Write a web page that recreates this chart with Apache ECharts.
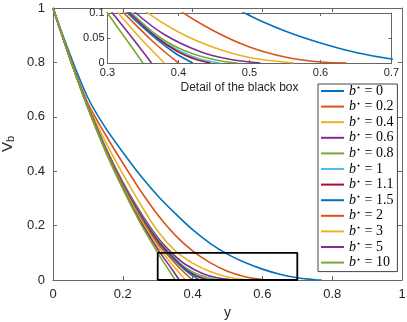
<!DOCTYPE html>
<html>
<head>
<meta charset="utf-8">
<script src="https://cdn.jsdelivr.net/npm/echarts@6/dist/echarts.min.js"></script>
<style>
  html, body { margin: 0; padding: 0; background: #fff; }
  #chart-container { width: 407px; height: 322px; }
</style>
</head>
<body>
<div id="chart-container"></div>
<script>
// b* values shown in the legend
const bValues = ["0", "0.2", "0.4", "0.6", "0.8", "1", "1.1", "1.5", "2", "3", "5", "10"];

// curves, [y, V_b]
const curve_b0 = [[0, 1], [0.05, 0.825], [0.1, 0.67], [0.15, 0.56], [0.2, 0.47], [0.25, 0.385], [0.3, 0.31], [0.35, 0.245], [0.4, 0.185], [0.45, 0.135], [0.5, 0.095], [0.55, 0.064], [0.6, 0.04], [0.65, 0.021], [0.7, 0.008], [0.75, 0.001], [0.77, 0]];
const curve_b02 = [[0, 1], [0.05, 0.815], [0.1, 0.65], [0.15, 0.535], [0.2, 0.43], [0.25, 0.33], [0.3, 0.24], [0.35, 0.165], [0.4, 0.107], [0.45, 0.064], [0.5, 0.032], [0.55, 0.012], [0.6, 0.002], [0.637, 0]];
const curve_b04 = [[0, 1], [0.05, 0.812], [0.1, 0.645], [0.15, 0.51], [0.2, 0.39], [0.25, 0.28], [0.3, 0.18], [0.35, 0.108], [0.4, 0.062], [0.45, 0.031], [0.5, 0.011], [0.562, 0]];
const curve_b06 = [[0, 1], [0.05, 0.81], [0.1, 0.64], [0.15, 0.49], [0.2, 0.36], [0.25, 0.25], [0.3, 0.156], [0.34, 0.1], [0.38, 0.057], [0.43, 0.023], [0.47, 0.008], [0.515, 0]];
const curve_b08 = [[0, 1], [0.05, 0.81], [0.1, 0.638], [0.15, 0.487], [0.2, 0.356], [0.25, 0.245], [0.3, 0.15], [0.334, 0.1], [0.37, 0.055], [0.4, 0.03], [0.43, 0.014], [0.46, 0.004], [0.483, 0]];
const curve_b1 = [[0, 1], [0.05, 0.81], [0.1, 0.637], [0.15, 0.485], [0.2, 0.354], [0.25, 0.243], [0.3, 0.147], [0.332, 0.1], [0.37, 0.052], [0.4, 0.025], [0.43, 0.008], [0.458, 0]];
const curve_b11 = [[0, 1], [0.05, 0.81], [0.1, 0.637], [0.15, 0.484], [0.2, 0.353], [0.25, 0.241], [0.3, 0.145], [0.331, 0.1], [0.37, 0.05], [0.4, 0.022], [0.425, 0.007], [0.445, 0]];
const curve_b15 = [[0, 1], [0.05, 0.81], [0.1, 0.636], [0.15, 0.482], [0.2, 0.35], [0.25, 0.237], [0.3, 0.14], [0.328, 0.1], [0.367, 0.05], [0.395, 0.02], [0.42, 0]];
const curve_b2 = [[0, 1], [0.05, 0.81], [0.1, 0.635], [0.15, 0.48], [0.2, 0.347], [0.25, 0.232], [0.3, 0.133], [0.323, 0.1], [0.36, 0.048], [0.38, 0.023], [0.4, 0]];
const curve_b3 = [[0, 1], [0.05, 0.81], [0.1, 0.634], [0.15, 0.478], [0.2, 0.343], [0.25, 0.225], [0.3, 0.123], [0.315, 0.1], [0.346, 0.05], [0.38, 0]];
const curve_b5 = [[0, 1], [0.05, 0.81], [0.1, 0.633], [0.15, 0.476], [0.2, 0.339], [0.25, 0.217], [0.3, 0.113], [0.307, 0.1], [0.335, 0.05], [0.362, 0]];
const curve_b10 = [[0, 1], [0.05, 0.81], [0.1, 0.632], [0.15, 0.474], [0.2, 0.335], [0.25, 0.21], [0.3, 0.1], [0.325, 0.05], [0.35, 0]];

const curves = [curve_b0, curve_b02, curve_b04, curve_b06, curve_b08, curve_b1, curve_b11, curve_b15, curve_b2, curve_b3, curve_b5, curve_b10];

// black box = range of the inset
const boxX = [0.3, 0.3, 0.7, 0.7, 0.3];
const boxY = [0, 0.1, 0.1, 0, 0];

// matlab default line colours
const colors = ["#0072BD", "#D95319", "#EDB120", "#7E2F8E", "#77AC30", "#4DBEEE", "#A2142F", "#0072BD", "#D95319", "#EDB120", "#7E2F8E", "#77AC30"];

const axisColor = "#666";
const textColor = "#262626";
const sans = "Liberation Sans";

var chart_container = document.getElementById("chart-container");
var myChart = echarts.init(chart_container, null, { renderer: "canvas" });

// one axis helper so the 8 axes stay readable
function makeAxis(opts) {
  return Object.assign(
    {
      type: "value",
      axisLine: { show: true, onZero: false, lineStyle: { color: axisColor, width: 1 } },
      axisTick: { show: true, inside: true, length: 4, lineStyle: { color: axisColor } },
      splitLine: { show: false },
      axisLabel: { show: false },
    },
    opts,
  );
}

var names = bValues.map((b) => "b* = " + b);
var series = [];

curves.forEach((c, i) => {
  // main plot
  series.push({
    name: names[i],
    type: "line",
    xAxisIndex: 0,
    yAxisIndex: 0,
    data: c,
    symbol: "none",
    smooth: 0.3,
    lineStyle: { width: 1.6, color: colors[i] },
    itemStyle: { color: colors[i] },
    z: 2,
  });
  // inset
  series.push({
    name: names[i],
    type: "line",
    xAxisIndex: 2,
    yAxisIndex: 2,
    data: c,
    symbol: "none",
    smooth: 0.3,
    clip: true,
    lineStyle: { width: 1.6, color: colors[i] },
    itemStyle: { color: colors[i] },
    z: 6,
  });
});

// the black rectangle in the main plot
series.push({
  name: "box",
  type: "line",
  xAxisIndex: 0,
  yAxisIndex: 0,
  data: boxX.map((x, i) => [x, boxY[i]]),
  symbol: "none",
  lineStyle: { width: 1.8, color: "#000" },
  z: 3,
});

var option = {
  animation: false,
  backgroundColor: "#fff",
  grid: [
    { left: 53, top: 8, width: 349, height: 272, show: false, outerBoundsMode: "none", containLabel: false },
    { left: 107.5, top: 13, width: 284, height: 50, show: true, backgroundColor: "#fff", borderWidth: 0, z: 5, outerBoundsMode: "none", containLabel: false },
  ],
  xAxis: [
    makeAxis({
      gridIndex: 0, position: "bottom", min: 0, max: 1, interval: 0.2,
      axisLabel: { show: true, color: textColor, fontFamily: sans, fontSize: 13, margin: 8 },
      name: "y", nameLocation: "middle", nameGap: 22,
      nameTextStyle: { color: textColor, fontFamily: sans, fontSize: 14 },
    }),
    makeAxis({ gridIndex: 0, position: "top", min: 0, max: 1, interval: 0.2 }),
    makeAxis({
      gridIndex: 1, position: "bottom", min: 0.3, max: 0.7, interval: 0.1, z: 6,
      axisLabel: { show: true, color: textColor, fontFamily: sans, fontSize: 11, margin: 4 },
      axisTick: { show: true, inside: true, length: 3, lineStyle: { color: axisColor } },
      name: "Detail of the black box", nameLocation: "middle", nameGap: 19,
      nameTextStyle: { color: textColor, fontFamily: sans, fontSize: 12, padding: [0, 20, 0, 0] },
    }),
    makeAxis({
      gridIndex: 1, position: "top", min: 0.3, max: 0.7, interval: 0.1, z: 6,
      axisTick: { show: true, inside: true, length: 3, lineStyle: { color: axisColor } },
    }),
  ],
  yAxis: [
    makeAxis({
      gridIndex: 0, position: "left", min: 0, max: 1, interval: 0.2,
      axisLabel: { show: true, color: textColor, fontFamily: sans, fontSize: 13, margin: 8 },
      name: "{v|V}{s|b}", nameLocation: "middle", nameGap: 34, nameRotate: 90,
      nameTextStyle: {
        color: textColor,
        rich: {
          v: { fontFamily: sans, fontSize: 15, color: textColor, lineHeight: 16, verticalAlign: "top" },
          s: { fontFamily: sans, fontSize: 11, color: textColor, lineHeight: 10, verticalAlign: "bottom" },
        },
      },
    }),
    makeAxis({ gridIndex: 0, position: "right", min: 0, max: 1, interval: 0.2 }),
    makeAxis({
      gridIndex: 1, position: "left", min: 0, max: 0.1, interval: 0.05, z: 6,
      axisLabel: { show: true, color: textColor, fontFamily: sans, fontSize: 11, margin: 3 },
      axisTick: { show: true, inside: true, length: 3, lineStyle: { color: axisColor } },
    }),
    makeAxis({
      gridIndex: 1, position: "right", min: 0, max: 0.1, interval: 0.05, z: 6,
      axisTick: { show: true, inside: true, length: 3, lineStyle: { color: axisColor } },
    }),
  ],
  legend: {
    data: names,
    orient: "vertical",
    left: 318,
    top: 84,
    padding: [0, 4, 2, 3],
    icon: "rect",
    itemWidth: 23,
    itemHeight: 2,
    itemGap: 1.6,
    backgroundColor: "#fff",
    borderColor: "#444",
    borderWidth: 1,
    borderRadius: 0,
    selectedMode: false,
    formatter: function (name) {
      return "{i|b}{s|⋆}{n| = " + name.replace("b* = ", "") + "}";
    },
    textStyle: {
      color: "#000",
      rich: {
        i: { fontFamily: "Liberation Serif", fontStyle: "italic", fontSize: 14, lineHeight: 14, color: "#000" },
        s: { fontFamily: "DejaVu Sans", fontSize: 8, lineHeight: 8, verticalAlign: "top", color: "#000" },
        n: { fontFamily: "Liberation Serif", fontSize: 14, lineHeight: 14, color: "#000" },
      },
    },
  },
  series: series,
};

option && myChart.setOption(option);

window.addEventListener("resize", function () {
  myChart.resize();
});
</script>
</body>
</html>
